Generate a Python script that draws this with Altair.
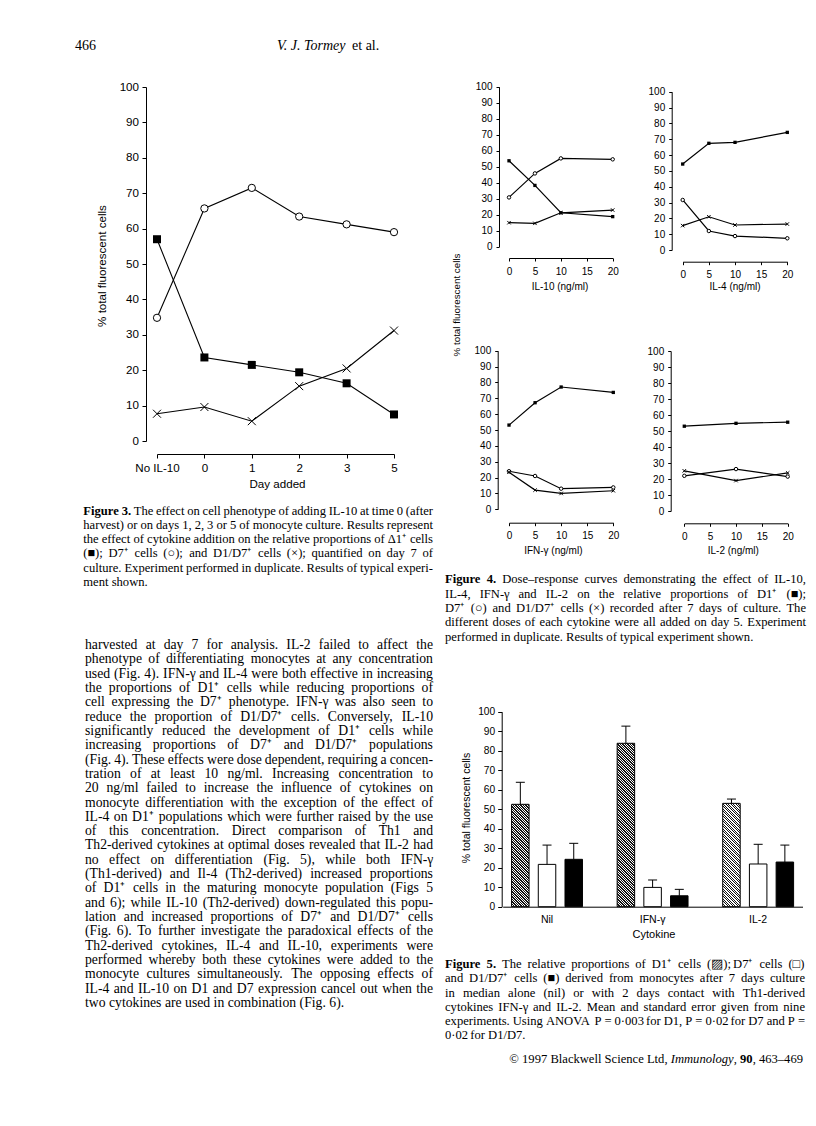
import altair as alt
import pandas as pd

W, H = 800, 1110
M = 8


def px(v):
    return v - M


SANS = "Liberation Sans"
SERIF = "Liberation Serif"
CROSS = "M-1,-1L1,1M-1,1L1,-1"
CAP = "M-1,0L1,0"

# ---------------- Figure 3 data ----------------
fig3_days = ["No IL-10", "0", "1", "2", "3", "5"]
fig3_d1 = [57.0, 23.6, 21.5, 19.4, 16.3, 7.5]
fig3_d7 = [34.8, 65.7, 71.5, 63.4, 61.2, 59.0]
fig3_d1d7 = [7.7, 9.6, 5.6, 15.5, 20.5, 31.2]

# ---------------- Figure 4 data ----------------
fig4_doses = [0, 5, 10, 20]
il10_d1 = [53.7, 38.3, 21.2, 18.8]
il10_d7 = [30.8, 45.8, 55.2, 54.6]
il10_d1d7 = [15.0, 14.6, 21.2, 22.9]
il4_d1 = [54.3, 67.4, 68.0, 74.3]
il4_d7 = [31.6, 12.0, 8.8, 7.4]
il4_d1d7 = [15.4, 21.0, 15.8, 16.4]
ifn_d1 = [53.1, 67.2, 77.1, 73.7]
ifn_d7 = [24.0, 21.0, 13.0, 13.8]
ifn_d1d7 = [23.4, 12.1, 10.0, 11.7]
il2_doses = [0, 10, 20]
il2_d1 = [53.0, 54.8, 55.5]
il2_d7 = [22.0, 26.2, 21.5]
il2_d1d7 = [25.1, 19.0, 23.8]
fig4_ticks = [0, 5, 10, 15, 20]
pct_ticks = list(range(0, 101, 10))

# ---------------- Figure 5 data ----------------
fig5_cytokines = ["Nil", "IFN-γ", "IL-2"]
fig5_series = ["D1", "D7", "D1/D7"]
fig5_d1_mean = [52.5, 83.8, 53.0]
fig5_d1_se = [11.3, 8.8, 2.2]
fig5_d7_mean = [21.7, 9.9, 21.9]
fig5_d7_se = [9.9, 3.8, 10.1]
fig5_d1d7_mean = [24.3, 5.6, 22.9]
fig5_d1d7_se = [8.2, 3.3, 8.7]

# ---------------- Text ----------------
header_page = "466"
header_author = "V. J. Tormey"
header_etal = "et al."
ytitle = "% total fluorescent cells"
fig3_xtitle = "Day added"
fig4_xtitles = ["IL-10 (ng/ml)", "IL-4 (ng/ml)", "IFN-γ (ng/ml)", "IL-2 (ng/ml)"]
fig5_xtitle = "Cytokine"

cap3_lines = [
    "Figure 3. The effect on cell phenotype of adding IL-10 at time 0 (after",
    "harvest) or on days 1, 2, 3 or 5 of monocyte culture. Results represent",
    "the effect of cytokine addition on the relative proportions of Δ1⁺ cells",
    "(■); D7⁺ cells (○); and D1/D7⁺ cells (×); quantified on day 7 of",
    "culture. Experiment performed in duplicate. Results of typical experi-",
    "ment shown.",
]
cap4_lines = [
    "Figure 4. Dose–response curves demonstrating the effect of IL-10,",
    "IL-4, IFN-γ and IL-2 on the relative proportions of D1⁺ (■);",
    "D7⁺ (○) and D1/D7⁺ cells (×) recorded after 7 days of culture. The",
    "different doses of each cytokine were all added on day 5. Experiment",
    "performed in duplicate. Results of typical experiment shown.",
]
cap5_lines = [
    "Figure 5. The relative proportions of D1⁺ cells (▨); D7⁺ cells (□)",
    "and D1/D7⁺ cells (■) derived from monocytes after 7 days culture",
    "in median alone (nil) or with 2 days contact with Th1-derived",
    "cytokines IFN-γ and IL-2. Mean and standard error given from nine",
    "experiments. Using ANOVA P = 0·003 for D1, P = 0·02 for D7 and P =",
    "0·02 for D1/D7.",
]
body_lines = [
    "harvested at day 7 for analysis. IL-2 failed to affect the",
    "phenotype of differentiating monocytes at any concentration",
    "used (Fig. 4). IFN-γ and IL-4 were both effective in increasing",
    "the proportions of D1⁺ cells while reducing proportions of",
    "cell expressing the D7⁺ phenotype. IFN-γ was also seen to",
    "reduce the proportion of D1/D7⁺ cells. Conversely, IL-10",
    "significantly reduced the development of D1⁺ cells while",
    "increasing proportions of D7⁺ and D1/D7⁺ populations",
    "(Fig. 4). These effects were dose dependent, requiring a concen-",
    "tration of at least 10 ng/ml. Increasing concentration to",
    "20 ng/ml failed to increase the influence of cytokines on",
    "monocyte differentiation with the exception of the effect of",
    "IL-4 on D1⁺ populations which were further raised by the use",
    "of this concentration. Direct comparison of Th1 and",
    "Th2-derived cytokines at optimal doses revealed that IL-2 had",
    "no effect on differentiation (Fig. 5), while both IFN-γ",
    "(Th1-derived) and Il-4 (Th2-derived) increased proportions",
    "of D1⁺ cells in the maturing monocyte population (Figs 5",
    "and 6); while IL-10 (Th2-derived) down-regulated this popu-",
    "lation and increased proportions of D7⁺ and D1/D7⁺ cells",
    "(Fig. 6). To further investigate the paradoxical effects of the",
    "Th2-derived cytokines, IL-4 and IL-10, experiments were",
    "performed whereby both these cytokines were added to the",
    "monocyte cultures simultaneously. The opposing effects of",
    "IL-4 and IL-10 on D1 and D7 expression cancel out when the",
    "two cytokines are used in combination (Fig. 6).",
]
copy_a = "© 1997 Blackwell Science Ltd,"
copy_b = "Immunology"
copy_c = ","
copy_d = "90"
copy_e = ", 463–469"

# ---------------- font metrics (Times-compatible, per 1000 em) ----------------
_W = {" ": 250, "!": 333, "%": 833, "(": 333, ")": 333, "+": 564, ",": 250, "-": 333,
      ".": 250, "/": 278, ":": 278, ";": 278, "=": 564, "–": 500, "·": 250, "×": 564,
      "©": 760, "γ": 411, "Δ": 612, "⁺": 400, "■": 600, "○": 650, "□": 650, "▨": 650}
for _c in "0123456789":
    _W[_c] = 500
_W.update(dict(zip("ABCDEFGHIJKLMNOPQRSTUVWXYZ",
                   [722, 667, 667, 722, 611, 556, 722, 722, 333, 389, 722, 611, 889, 722,
                    722, 556, 722, 667, 556, 611, 722, 722, 944, 722, 722, 611])))
_W.update(dict(zip("abcdefghijklmnopqrstuvwxyz",
                   [444, 500, 444, 500, 444, 333, 500, 500, 278, 278, 500, 278, 778, 500,
                    500, 500, 500, 333, 389, 278, 500, 500, 722, 500, 500, 444])))
_WB = {"F": 611, "i": 278, "g": 500, "u": 556, "r": 444, "e": 444, ".": 250}


def tw(s, bold=False):
    tot = 0
    for ch in s:
        if bold and ch in _WB:
            tot += _WB[ch]
        else:
            tot += _W.get(ch, 500)
    return tot / 1000.0


# ---------------- helpers ----------------
def long_df(xs, series):
    rows = []
    for name, vals in series.items():
        for k, (x, v) in enumerate(zip(xs, vals)):
            rows.append({"x": x, "k": k, "series": name, "value": v})
    return pd.DataFrame(rows)


def y_axis(x_page, size, tick, pad):
    return alt.Axis(orient="left", offset=-px(x_page), values=pct_ticks, tickSize=tick,
                    labelPadding=pad, labelFont=SANS, labelFontSize=size, labelColor="black",
                    domainColor="black", tickColor="black", domainWidth=1, tickWidth=1,
                    grid=False, title=None, labelFlush=False, labelOverlap=False)


def x_axis(y_page, size, tick, pad, values=None):
    kw = dict(orient="bottom", offset=px(y_page) - H, tickSize=tick, labelPadding=pad,
              labelFont=SANS, labelFontSize=size, labelColor="black", domainColor="black",
              tickColor="black", domainWidth=1, tickWidth=1, grid=False, title=None,
              labelFlush=False, labelOverlap=False, labelAngle=0)
    if values is not None:
        kw["values"] = values
    return alt.Axis(**kw)


def series_plot(df, X, Y, sq, ci, cr, lw):
    base = alt.Chart(df)
    line = base.mark_line(color="black", strokeWidth=lw).encode(
        x=X, y=Y, detail="series:N", order="k:Q")
    s1 = base.transform_filter(alt.datum.series == "D1").mark_point(
        shape="square", filled=True, color="black", opacity=1, size=sq).encode(x=X, y=Y)
    s2 = base.transform_filter(alt.datum.series == "D7").mark_point(
        shape="circle", filled=True, fill="white", stroke="black", strokeWidth=1,
        opacity=1, size=ci).encode(x=X, y=Y)
    s3 = base.transform_filter(alt.datum.series == "D1/D7").mark_point(
        shape=CROSS, filled=False, color="black", strokeWidth=1, opacity=1,
        size=cr).encode(x=X, y=Y)
    return alt.layer(line, s1, s2, s3)


def label(txt, x, y, size, font=SERIF, align="left", weight="normal", style="normal", angle=0):
    kw = dict(align=align, baseline="middle", font=font, fontSize=size, color="black",
              fontWeight=weight, fontStyle=style)
    if angle:
        kw["angle"] = angle
    return alt.Chart(pd.DataFrame({"t": [txt]})).mark_text(**kw).encode(
        x=alt.value(px(x)), y=alt.value(px(y)), text="t:N")


def justified(lines, x0, x1, y0, step, fs, bold_words=0):
    rows = []
    n = len(lines)
    for i, line in enumerate(lines):
        words = line.split(" ")
        bold = [bool(i == 0 and j < bold_words) for j in range(len(words))]
        widths = [tw(w, b) * fs for w, b in zip(words, bold)]
        if i < n - 1 and len(words) > 1:
            gap = (x1 - x0 - sum(widths)) / (len(words) - 1)
            gap = max(gap, 0.12 * fs)
        else:
            gap = 0.25 * fs
        x = x0
        for w, wd, b in zip(words, widths, bold):
            rows.append({"x": px(x), "y": px(y0 + i * step), "w": w, "b": b})
            x += wd + gap
    df = pd.DataFrame(rows)
    enc = dict(x=alt.X("x:Q", scale=None, axis=None), y=alt.Y("y:Q", scale=None, axis=None),
               text="w:N")
    base = alt.Chart(df)
    layers = [base.transform_filter("!datum.b").mark_text(
        align="left", baseline="middle", font=SERIF, fontSize=fs, color="black").encode(**enc)]
    if bold_words:
        layers.append(base.transform_filter("datum.b").mark_text(
            align="left", baseline="middle", font=SERIF, fontSize=fs, fontWeight="bold",
            color="black").encode(**enc))
    return alt.layer(*layers)


# ---------------- Figure 3 ----------------
df3 = long_df(fig3_days, {"D1": fig3_d1, "D7": fig3_d7, "D1/D7": fig3_d1d7})
X3 = alt.X("x:N", sort=None,
           scale=alt.Scale(type="point", domain=fig3_days, range=[px(157), px(394)], padding=0),
           axis=x_axis(454, 11.6, 4, 4))
Y3 = alt.Y("value:Q", scale=alt.Scale(domain=[0, 100], range=[px(441), px(87)], nice=False, zero=False),
           axis=y_axis(146, 11.6, 4, 3.5))
fig3 = series_plot(df3, X3, Y3, 64, 53, 64, 1.1)


# ---------------- Figure 4 ----------------
def fig4_panel(xs, d1, d7, dd, yax_x, y0, y100, x0, x20, xax_y):
    df = long_df(xs, {"D1": d1, "D7": d7, "D1/D7": dd})
    X = alt.X("x:Q", scale=alt.Scale(domain=[0, 20], range=[px(x0), px(x20)], nice=False, zero=False),
              axis=x_axis(xax_y, 10, 3, 5, fig4_ticks))
    Y = alt.Y("value:Q", scale=alt.Scale(domain=[0, 100], range=[px(y0), px(y100)], nice=False, zero=False),
              axis=y_axis(yax_x, 10, 3, 4))
    return series_plot(df, X, Y, 11, 12, 12, 1.2)


p1 = fig4_panel(fig4_doses, il10_d1, il10_d7, il10_d1d7, 499, 246.7, 86.7, 509, 612.7, 258)
p2 = fig4_panel(fig4_doses, il4_d1, il4_d7, il4_d1d7, 671.7, 250, 91.7, 682.7, 787.3, 261.7)
p3 = fig4_panel(fig4_doses, ifn_d1, ifn_d7, ifn_d1d7, 497.7, 509.3, 350.7, 509, 613.3, 522.7)
p4 = fig4_panel(il2_doses, il2_d1, il2_d7, il2_d1d7, 670.7, 511, 351, 684.3, 787.7, 523.3)

# ---------------- Figure 5 ----------------
rows5 = []
for name, means, ses in [("D1", fig5_d1_mean, fig5_d1_se), ("D7", fig5_d7_mean, fig5_d7_se),
                         ("D1/D7", fig5_d1d7_mean, fig5_d1d7_se)]:
    for c, m, s in zip(fig5_cytokines, means, ses):
        rows5.append({"cytokine": c, "series": name, "mean": m, "se": s})
df5 = pd.DataFrame(rows5)

B_LO, B_HI, B_PI = 502.7, 802.5, 0.16
O_PI, O_PO = 0.345, 0.333
Y0_5, Y100_5 = 906.7, 711.7
X5 = alt.X("cytokine:N", sort=None,
           scale=alt.Scale(type="band", domain=fig5_cytokines, range=[px(B_LO), px(B_HI)],
                           paddingInner=B_PI, paddingOuter=0),
           axis=alt.Axis(orient="bottom", offset=px(Y0_5) - H, ticks=False, tickSize=0,
                         labelPadding=8, labelFont=SANS, labelFontSize=10.5, labelColor="black",
                         domainColor="black", domainWidth=1, grid=False, title=None, labelAngle=0))
XO5 = alt.XOffset("series:N", sort=None,
                  scale=alt.Scale(domain=fig5_series, paddingInner=O_PI, paddingOuter=O_PO))
Y5scale = alt.Scale(domain=[0, 100], range=[px(Y0_5), px(Y100_5)], nice=False, zero=False)
Y5axis = y_axis(501.7, 10.2, 4, 3)
Y5 = alt.Y("mean:Q", scale=Y5scale, axis=Y5axis)

# bar pixel geometry derived from the scale settings (for the hatch pattern)
_step = (B_HI - B_LO) / (3 - B_PI)
_bw = _step * (1 - B_PI)
_ostep = _bw / (3 - O_PI + 2 * O_PO)
BAR_W = _ostep * (1 - O_PI)
PX_PER = (Y0_5 - Y100_5) / 100.0


def hatch(h, w, period=2.5, frac=0.52):
    L = w + h
    dt = period / L
    stops = []
    k = 0
    while k * dt < 1:
        t0 = k * dt
        t1 = min(t0 + frac * dt, 1.0)
        t2 = min(t0 + dt, 1.0)
        stops += [(t0, "#111111"), (t1, "#111111"), (t1, "white"), (t2, "white")]
        k += 1
    a = L / (w * w + h * h)
    return alt.LinearGradient(gradient="linear",
                              stops=[alt.GradientStop(offset=round(o, 5), color=c) for o, c in stops],
                              x1=0, y1=1, x2=a * w, y2=1 - a * h)


base5 = alt.Chart(df5).transform_calculate(top="datum.mean + datum.se")
layers5 = []
for c, m in zip(fig5_cytokines, fig5_d1_mean):
    layers5.append(
        base5.transform_filter((alt.datum.series == "D1") & (alt.datum.cytokine == c))
        .mark_bar(stroke="black", strokeWidth=1, fill=hatch(m * PX_PER, BAR_W))
        .encode(x=X5, xOffset=XO5, y=Y5))
layers5.append(
    base5.transform_filter(alt.datum.series != "D1").mark_bar(stroke="black", strokeWidth=1).encode(
        x=X5, xOffset=XO5, y=Y5,
        fill=alt.Fill("series:N", scale=alt.Scale(domain=["D7", "D1/D7"], range=["white", "black"]),
                      legend=None)))
layers5.append(base5.mark_rule(color="black", strokeWidth=1).encode(
    x=X5, xOffset=XO5, y=Y5, y2="top:Q"))
layers5.append(base5.mark_point(shape=CAP, filled=False, color="black", strokeWidth=1, opacity=1,
                                size=81).encode(
    x=X5, xOffset=XO5, y=alt.Y("top:Q", scale=Y5scale, axis=Y5axis)))
fig5 = alt.layer(*layers5)

# ---------------- Text layers ----------------
HF = 14
CF = 12.6
BF = 13.7
CR = 803
texts = [
    label(header_page, 75, 46, HF),
    label(header_author, 277, 46, HF, style="italic"),
    label(header_etal, 277 + 5.36 * HF, 46, HF),
    # axis titles
    label(ytitle, 103.3, 266, 11.6, font=SANS, align="center", angle=270),
    label(fig3_xtitle, 277.5, 485, 11.6, font=SANS, align="center"),
    label(ytitle, 457, 305, 9.8, font=SANS, align="center", angle=270),
    label(fig4_xtitles[0], 560, 286.7, 10, font=SANS, align="center"),
    label(fig4_xtitles[1], 735, 287.3, 10, font=SANS, align="center"),
    label(fig4_xtitles[2], 553.3, 550.7, 10, font=SANS, align="center"),
    label(fig4_xtitles[3], 733.3, 550.7, 10, font=SANS, align="center"),
    label(ytitle, 467, 808, 10.5, font=SANS, align="center", angle=270),
    label(fig5_xtitle, 654, 935, 11, font=SANS, align="center"),
    # captions
    justified(cap3_lines, 83.3, 433, 510.7, 14.2, CF, bold_words=2),
    justified(cap4_lines, 445, 806, 579.3, 14.35, CF, bold_words=2),
    justified(cap5_lines, 445, 805, 964, 14.27, CF, bold_words=2),
    # copyright
    label(copy_e, CR, 1059, CF, align="right"),
    label(copy_d, CR - 4.0 * CF, 1059, CF, align="right", weight="bold"),
    label(copy_c, CR - 5.25 * CF, 1059, CF, align="right"),
    label(copy_b, CR - 5.5 * CF, 1059, CF, align="right", style="italic"),
    label(copy_a, CR - 10.75 * CF, 1059, CF, align="right"),
    # body
    justified(body_lines, 85, 433, 645, 14.32, BF),
]

chart = alt.layer(fig3, p1, p2, p3, p4, fig5, *texts).resolve_scale(
    x="independent", y="independent"
).properties(
    width=W, height=H, padding=0, autosize=alt.AutoSizeParams(type="none"),
    background="white"
).configure_view(strokeWidth=0)

chart.save("out.html", embed_options={"renderer": "svg", "actions": False})
